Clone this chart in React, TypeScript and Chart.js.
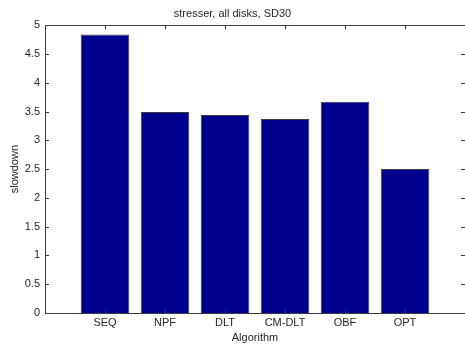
import React, { useEffect, useRef } from "react";
import { Chart, registerables } from "chart.js";

Chart.register(...registerables);

const categories = ["SEQ", "NPF", "DLT", "CM-DLT", "OBF", "OPT"];
const slowdown = [4.84, 3.49, 3.44, 3.37, 3.67, 2.5];
const yTicks = [0, 0.5, 1, 1.5, 2, 2.5, 3, 3.5, 4, 4.5, 5];

const FONT = "'Liberation Sans', Arial, Helvetica, sans-serif";
const TEXT = "#262626";
const AXIS = "#3a3a3a";

const boxPlugin = {
  id: "matlabBox",
  afterDatasetsDraw(chart: any) {
    const { ctx, chartArea } = chart;
    const { left, right, top, bottom } = chartArea;
    const xs = chart.scales.x;
    const ys = chart.scales.y;
    ctx.save();
    ctx.strokeStyle = AXIS;
    ctx.lineWidth = 1;
    ctx.beginPath();
    ctx.rect(Math.round(left) + 0.5, Math.round(top) + 0.5, Math.round(right - left), Math.round(bottom - top));
    ctx.stroke();
    ctx.beginPath();
    const tl = 4;
    categories.forEach((_, i) => {
      const px = Math.round(xs.getPixelForValue(i + 1)) + 0.5;
      ctx.moveTo(px, bottom);
      ctx.lineTo(px, bottom - tl);
      ctx.moveTo(px, top);
      ctx.lineTo(px, top + tl);
    });
    yTicks.forEach((v) => {
      const py = Math.round(ys.getPixelForValue(v)) + 0.5;
      ctx.moveTo(left, py);
      ctx.lineTo(left + tl, py);
      ctx.moveTo(right, py);
      ctx.lineTo(right - tl, py);
    });
    ctx.stroke();
    ctx.restore();
  },
};

export default function App() {
  const ref = useRef<HTMLCanvasElement | null>(null);
  useEffect(() => {
    document.body.style.margin = "0";
    const canvas = ref.current;
    if (!canvas) return;
    const chart = new Chart(canvas, {
      type: "bar",
      data: {
        datasets: [
          {
            data: slowdown.map((v, i) => ({ x: i + 1, y: v })) as any,
            backgroundColor: "#00008f",
            borderColor: "#3c3c3c",
            borderWidth: 1,
            categoryPercentage: 0.81,
            barPercentage: 1,
          },
        ],
      },
      options: {
        animation: false,
        responsive: false,
        maintainAspectRatio: false,
        layout: { padding: { left: 0, right: 0, top: 0, bottom: 0 } },
        plugins: {
          legend: { display: false },
          tooltip: { enabled: false },
          title: {
            display: true,
            text: "stresser, all disks, SD30",
            color: TEXT,
            font: { family: FONT, size: 11, weight: "normal" as any, lineHeight: 1.2 },
            padding: { top: 7, bottom: 5 },
          },
        },
        scales: {
          x: {
            type: "linear",
            min: 0,
            max: 7,
            offset: false,
            grid: { display: false, drawTicks: false },
            border: { display: false },
            afterFit(scale: any) {
              scale.height = 36;
              scale.paddingRight = 0;
              scale.paddingLeft = 0;
            },
            ticks: {
              stepSize: 1,
              autoSkip: false,
              maxRotation: 0,
              padding: 3,
              color: TEXT,
              font: { family: FONT, size: 11 },
              callback: (v: any) => categories[Number(v) - 1] ?? "",
            },
            title: {
              display: true,
              text: "Algorithm",
              color: TEXT,
              font: { family: FONT, size: 11, lineHeight: 1.2 },
              padding: { top: 0, bottom: 4 },
            },
          },
          y: {
            min: 0,
            max: 5,
            grid: { display: false, drawTicks: false },
            border: { display: false },
            afterFit(scale: any) {
              scale.width = 45;
            },
            ticks: {
              stepSize: 0.5,
              padding: 5,
              color: TEXT,
              font: { family: FONT, size: 11 },
              callback: (v: any) => String(v),
            },
            title: {
              display: true,
              text: "slowdown",
              color: TEXT,
              font: { family: FONT, size: 11, lineHeight: 1.2 },
              padding: { top: 8, bottom: 0 },
            },
          },
        },
      },
      plugins: [boxPlugin],
    });
    return () => chart.destroy();
  }, []);
  return (
    <div style={{ position: "absolute", left: 0, top: 0, width: 465, height: 349, background: "#fff" }}>
      <canvas ref={ref} width={465} height={349} style={{ width: 465, height: 349, display: "block" }} />
    </div>
  );
}
